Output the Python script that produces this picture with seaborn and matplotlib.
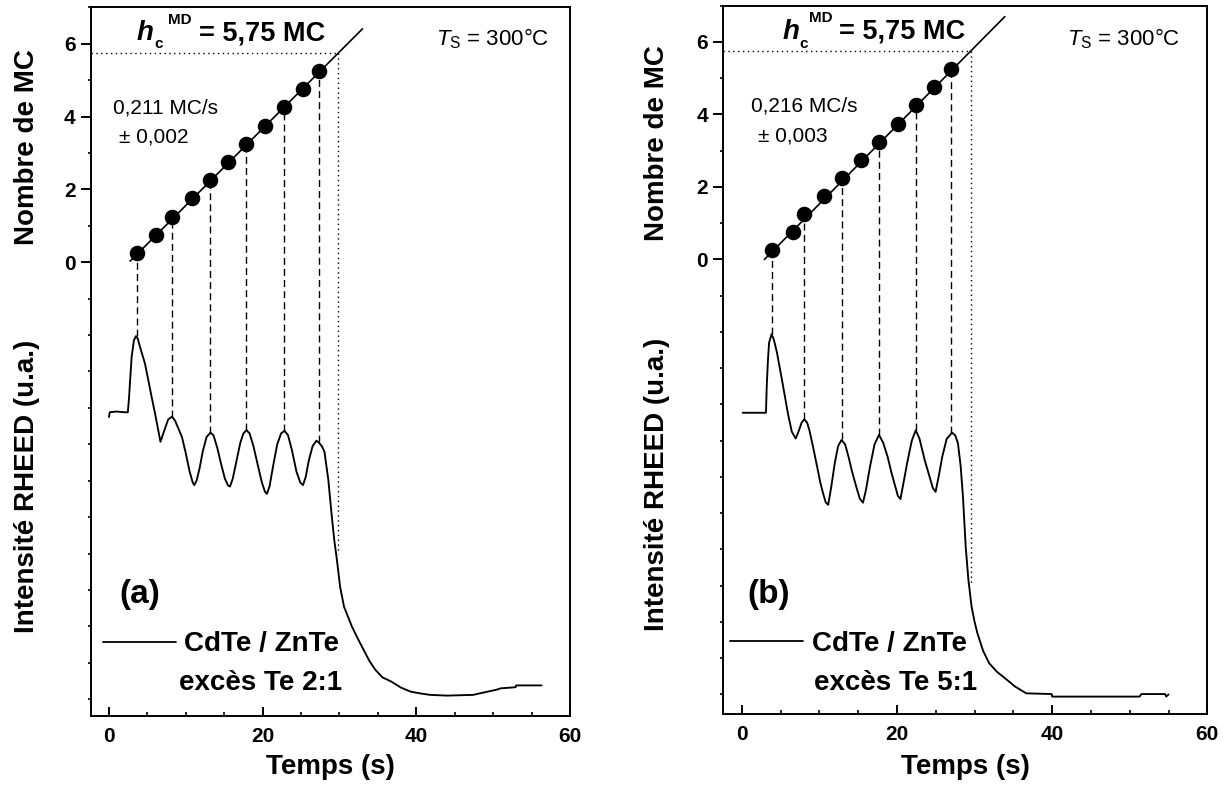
import matplotlib
matplotlib.use("Agg")
import matplotlib.pyplot as plt
import seaborn as sns
from matplotlib.ticker import FixedLocator, MultipleLocator
from matplotlib.lines import Line2D

# ---------------- data ----------------
dots_n = [0.25, 0.75, 1.25, 1.75, 2.25, 2.75, 3.25, 3.75, 4.25, 4.75, 5.25]
dots_t_a = [3.63, 6.15, 8.15, 10.85, 13.2, 15.55, 17.87, 20.3, 22.81, 25.2, 27.29]
dots_t_b = [3.92, 6.6, 8.04, 10.6, 12.84, 15.3, 17.67, 20.1, 22.41, 24.8, 27.0]
peak_I_a = [-2.03, -4.24, -4.68, -4.61, -4.63, -4.95]
peak_I_b = [-2.06, -4.41, -4.95, -4.84, -4.71, -4.78]

fit_t_a = [2.75, 33.0]
fit_n_a = [0.03, 6.41]
fit_t_b = [2.9, 33.9]
fit_n_b = [0.0, 6.70]
hc_value = 5.75
hc_t_a = 29.85
hc_t_b = 29.52
hc_drop_a = -8.0
hc_drop_b = -8.93

rheed_t_a = [0.0, 0.1, 1.0, 2.0, 2.45, 2.6, 2.75, 2.95, 3.25, 3.51, 3.75, 4.03, 4.68, 5.12, 5.55,
             5.99, 6.41, 6.7, 7.2, 7.7, 8.2, 8.6, 9.0, 9.5, 10.0, 10.5, 10.9, 11.1, 11.4, 11.8,
             12.2, 12.7, 13.2, 13.6, 14.1, 14.6, 15.1, 15.5, 15.75, 16.1, 16.6, 17.1, 17.5, 17.9,
             18.3, 18.8, 19.4, 19.9, 20.3, 20.56, 20.9, 21.4, 21.9, 22.4, 22.85, 23.3, 23.8, 24.4,
             24.9, 25.25, 25.6, 26.0, 26.5, 27.0, 27.3, 27.7, 28.04, 28.55, 28.96, 29.32, 29.67,
             30.08, 30.59, 31.61, 32.3, 33.13, 33.9, 34.66, 35.6, 36.7, 38.0, 39.24, 40.5, 41.8,
             44.0, 47.4, 48.0, 50.4, 51.0, 52.9, 53.0, 56.3]
rheed_I_a = [-4.25, -4.12, -4.10, -4.12, -4.12, -3.75, -3.24, -2.6, -2.14, -2.03, -2.1, -2.32,
             -2.78, -3.24, -3.70, -4.15, -4.61, -4.93, -4.62, -4.32, -4.24, -4.35, -4.55, -4.8,
             -5.25, -5.75, -6.05, -6.12, -6.0, -5.65, -5.2, -4.8, -4.68, -4.75, -5.1, -5.55,
             -5.95, -6.13, -6.16, -5.95, -5.45, -4.95, -4.7, -4.61, -4.7, -5.05, -5.6, -6.05,
             -6.3, -6.36, -6.15, -5.55, -5.0, -4.7, -4.63, -4.75, -5.15, -5.75, -6.05, -6.12,
             -5.9, -5.45, -5.05, -4.9, -4.95, -5.05, -5.2, -5.98, -6.9, -7.63, -8.18, -8.91,
             -9.46, -10.0, -10.3, -10.64, -10.95, -11.19, -11.4, -11.51, -11.68, -11.79, -11.84,
             -11.88, -11.9, -11.88, -11.85, -11.74, -11.7, -11.67, -11.62, -11.62]

rheed_t_b = [0.1, 1.5, 3.1, 3.2, 3.35, 3.5, 3.82, 4.1, 4.5, 5.17, 5.6, 5.93, 6.43, 6.93, 7.3,
             7.7, 8.04, 8.4, 8.7, 9.2, 9.7, 10.1, 10.46, 10.8, 11.12, 11.5, 11.97, 12.4, 12.84,
             13.3, 13.74, 14.2, 14.74, 15.2, 15.61, 16.0, 16.51, 17.1, 17.67, 18.2, 18.78, 19.3,
             19.78, 20.1, 20.44, 20.8, 21.3, 21.9, 22.41, 22.9, 23.56, 24.2, 24.6, 24.97, 25.4,
             25.83, 26.4, 27.09, 27.5, 27.85, 28.2, 28.5, 28.85, 29.2, 29.61, 30.0, 30.36, 31.1,
             31.88, 32.9, 33.9, 35.2, 36.66, 39.94, 40.0, 51.27, 51.5, 54.55, 54.7, 55.0]
rheed_I_b = [-4.23, -4.23, -4.23, -3.5, -2.8, -2.3, -2.06, -2.2, -2.55, -3.33, -3.85, -4.25,
             -4.75, -4.94, -4.75, -4.5, -4.41, -4.5, -4.71, -5.2, -5.72, -6.15, -6.45, -6.7,
             -6.77, -6.3, -5.62, -5.15, -4.98, -5.1, -5.44, -5.85, -6.27, -6.6, -6.71, -6.35,
             -5.72, -5.1, -4.84, -5.05, -5.44, -5.9, -6.27, -6.52, -6.61, -6.2, -5.62, -5.0,
             -4.71, -4.95, -5.53, -6.0, -6.3, -6.41, -5.95, -5.44, -4.95, -4.78, -4.85, -5.07,
             -5.7, -6.55, -7.92, -8.84, -9.58, -10.0, -10.31, -10.8, -11.14, -11.38, -11.55,
             -11.78, -11.97, -11.99, -12.06, -12.06, -11.99, -11.99, -12.06, -12.0]

x_ticks = [0, 20, 40, 60]
y_ticks = [0, 2, 4, 6]
rate_a = ["0,211 MC/s", "\u00b1 0,002"]
rate_b = ["0,216 MC/s", "\u00b1 0,003"]
legend_a = ["CdTe / ZnTe", "excès Te 2:1"]
legend_b = ["CdTe / ZnTe", "excès Te 5:1"]

# ---------------- style ----------------
sns.set_theme(style="ticks")
FONT = "Liberation Sans"
plt.rcParams["font.family"] = [FONT, "DejaVu Sans"]
plt.rcParams["mathtext.fontset"] = "custom"
plt.rcParams["mathtext.rm"] = FONT
plt.rcParams["mathtext.it"] = FONT + ":italic"
plt.rcParams["mathtext.bf"] = FONT + ":bold"
plt.rcParams["axes.edgecolor"] = "black"
plt.rcParams["axes.linewidth"] = 1.4
plt.rcParams["text.color"] = "black"
plt.rcParams["axes.labelcolor"] = "black"
plt.rcParams["xtick.color"] = "black"
plt.rcParams["ytick.color"] = "black"

W, H = 1228, 785
fig = plt.figure(figsize=(W / 100, H / 100), dpi=100)
fig.patch.set_facecolor("white")


def fx(px):
    return px / W


def fy(py):
    return 1 - py / H


def draw_panel(box, xlim, ylim, dots_t, peak_I, fit_t, fit_n, hc_t, hc_drop,
               rt, rI, rate_txt, leg_txt, letter, pos):
    l, r, t, b = box
    ax = fig.add_axes([fx(l), fy(b), fx(r) - fx(l), fy(t) - fy(b)])
    ax.set_facecolor("white")
    ax.set_xlim(*xlim)
    ax.set_ylim(*ylim)

    # guide lines
    ax.vlines(dots_t[::2], peak_I, dots_n[::2], colors="black",
              linestyles=(0, (5, 3)), linewidth=1.0, zorder=2)
    ax.plot([xlim[0], hc_t], [hc_value, hc_value], color="black",
            linestyle=(0, (1, 2.5)), linewidth=1.0, zorder=2)
    ax.plot([hc_t, hc_t], [hc_value, hc_drop], color="black",
            linestyle=(0, (1, 2.5)), linewidth=1.0, zorder=2)

    # RHEED trace
    sns.lineplot(x=rt, y=rI, ax=ax, color="black", linewidth=1.35,
                 sort=False, estimator=None, zorder=3)
    # fit line and monolayer points
    sns.lineplot(x=fit_t, y=fit_n, ax=ax, color="black", linewidth=1.2,
                 sort=False, estimator=None, zorder=3)
    sns.scatterplot(x=dots_t, y=dots_n, ax=ax, s=125, color="black",
                    edgecolor="black", linewidth=0, zorder=5)

    # ticks
    ax.xaxis.set_major_locator(FixedLocator(x_ticks))
    ax.xaxis.set_minor_locator(MultipleLocator(5))
    ax.yaxis.set_major_locator(FixedLocator(y_ticks))
    ax.yaxis.set_minor_locator(MultipleLocator(1))
    ax.tick_params(axis="x", which="major", direction="in", length=6.5, width=1.4,
                   labelsize=15, pad=8, bottom=True, top=False, colors="black")
    ax.tick_params(axis="x", which="minor", direction="in", length=3.2, width=1.2,
                   bottom=True, top=False, colors="black")
    ax.tick_params(axis="y", which="major", direction="out", length=7, width=1.4,
                   labelsize=15, pad=4, left=True, right=False, colors="black")
    ax.tick_params(axis="y", which="minor", direction="out", length=2.2, width=1.2,
                   left=True, right=False, colors="black")
    for lab in ax.get_xticklabels() + ax.get_yticklabels():
        lab.set_fontweight("bold")
        lab.set_color("black")
    ax.set_xlabel("")
    ax.set_ylabel("")
    for s in ax.spines.values():
        s.set_visible(True)
        s.set_linewidth(1.4)
        s.set_color("black")

    # annotations
    ax.text(pos["h"][0], pos["h"][1], "h", fontsize=20, fontweight="bold",
            fontstyle="italic", va="baseline", ha="left", color="black")
    ax.text(pos["c"][0], pos["c"][1], "c", fontsize=11, fontweight="bold",
            va="baseline", ha="left", color="black")
    ax.text(pos["MD"][0], pos["MD"][1], "MD", fontsize=11, fontweight="bold",
            va="baseline", ha="left", color="black")
    ax.text(pos["eq"][0], pos["eq"][1], "= 5,75 MC", fontsize=19.5, fontweight="bold",
            va="baseline", ha="left", color="black")
    ax.text(pos["Ts"][0], pos["Ts"][1], r"$T_{\mathrm{S}}$ = 300°C", fontsize=16,
            va="baseline", ha="left", color="black")
    ax.text(pos["r1"][0], pos["r1"][1], rate_txt[0], fontsize=15, va="baseline",
            ha="left", color="black")
    ax.text(pos["r2"][0], pos["r2"][1], rate_txt[1], fontsize=15, va="baseline",
            ha="left", color="black")
    ax.text(pos["let"][0], pos["let"][1], letter, fontsize=24, fontweight="bold",
            va="baseline", ha="left", color="black")

    handle = Line2D([], [], color="black", linewidth=1.3)
    leg = ax.legend([handle], [leg_txt[0]], loc="center left",
                    bbox_to_anchor=pos["leg"], bbox_transform=ax.transData,
                    frameon=False, borderpad=0, borderaxespad=0, handlelength=2.63,
                    handletextpad=0.3, prop={"weight": "bold", "size": 20, "family": FONT})
    for txt in leg.get_texts():
        txt.set_color("black")
    ax.text(pos["leg2"][0], pos["leg2"][1], leg_txt[1], fontsize=20, fontweight="bold",
            va="center", ha="center", color="black")
    return ax


pos_a = {"h": (3.64, 6.09), "c": (5.9, 5.87), "MD": (7.68, 6.55), "eq": (11.76, 6.09),
         "Ts": (42.55, 5.95), "r1": (0.57, 4.08), "r2": (1.34, 3.30),
         "let": (1.34, -9.36), "leg": (-0.78, -10.49), "leg2": (19.73, -11.56)}
pos_b = {"h": (5.27, 6.09), "c": (7.35, 5.82), "MD": (8.6, 6.55), "eq": (12.47, 6.09),
         "Ts": (41.96, 5.91), "r1": (1.15, 4.07), "r2": (2.05, 3.24),
         "let": (0.64, -9.48), "leg": (-1.48, -10.61), "leg2": (19.8, -11.69)}

draw_panel((91, 570, 7.3, 716), (-2.34, 60), (-12.46, 7.0), dots_t_a, peak_I_a,
           fit_t_a, fit_n_a, hc_t_a, hc_drop_a, rheed_t_a, rheed_I_a, rate_a, legend_a,
           "(a)", pos_a)
draw_panel((723.3, 1207.3, 5.7, 714), (-2.4, 60), (-12.54, 7.0), dots_t_b, peak_I_b,
           fit_t_b, fit_n_b, hc_t_b, hc_drop_b, rheed_t_b, rheed_I_b, rate_b, legend_b,
           "(b)", pos_b)

# axis titles
for xc, yc_top, yc_bot in [(27.4, 147.5, 486.5), (657.5, 143.5, 484)]:
    fig.text(fx(xc), fy(yc_top), "Nombre de MC", rotation=90, ha="center", va="center",
             fontsize=20, fontweight="bold", color="black")
    fig.text(fx(xc), fy(yc_bot), "Intensité RHEED (u.a.)", rotation=90, ha="center",
             va="center", fontsize=20, fontweight="bold", color="black")
for xc in (330, 965):
    fig.text(fx(xc), fy(767), "Temps (s)", ha="center", va="center", fontsize=20,
             fontweight="bold", color="black")

fig.savefig("out.png", dpi=100, facecolor="white")
